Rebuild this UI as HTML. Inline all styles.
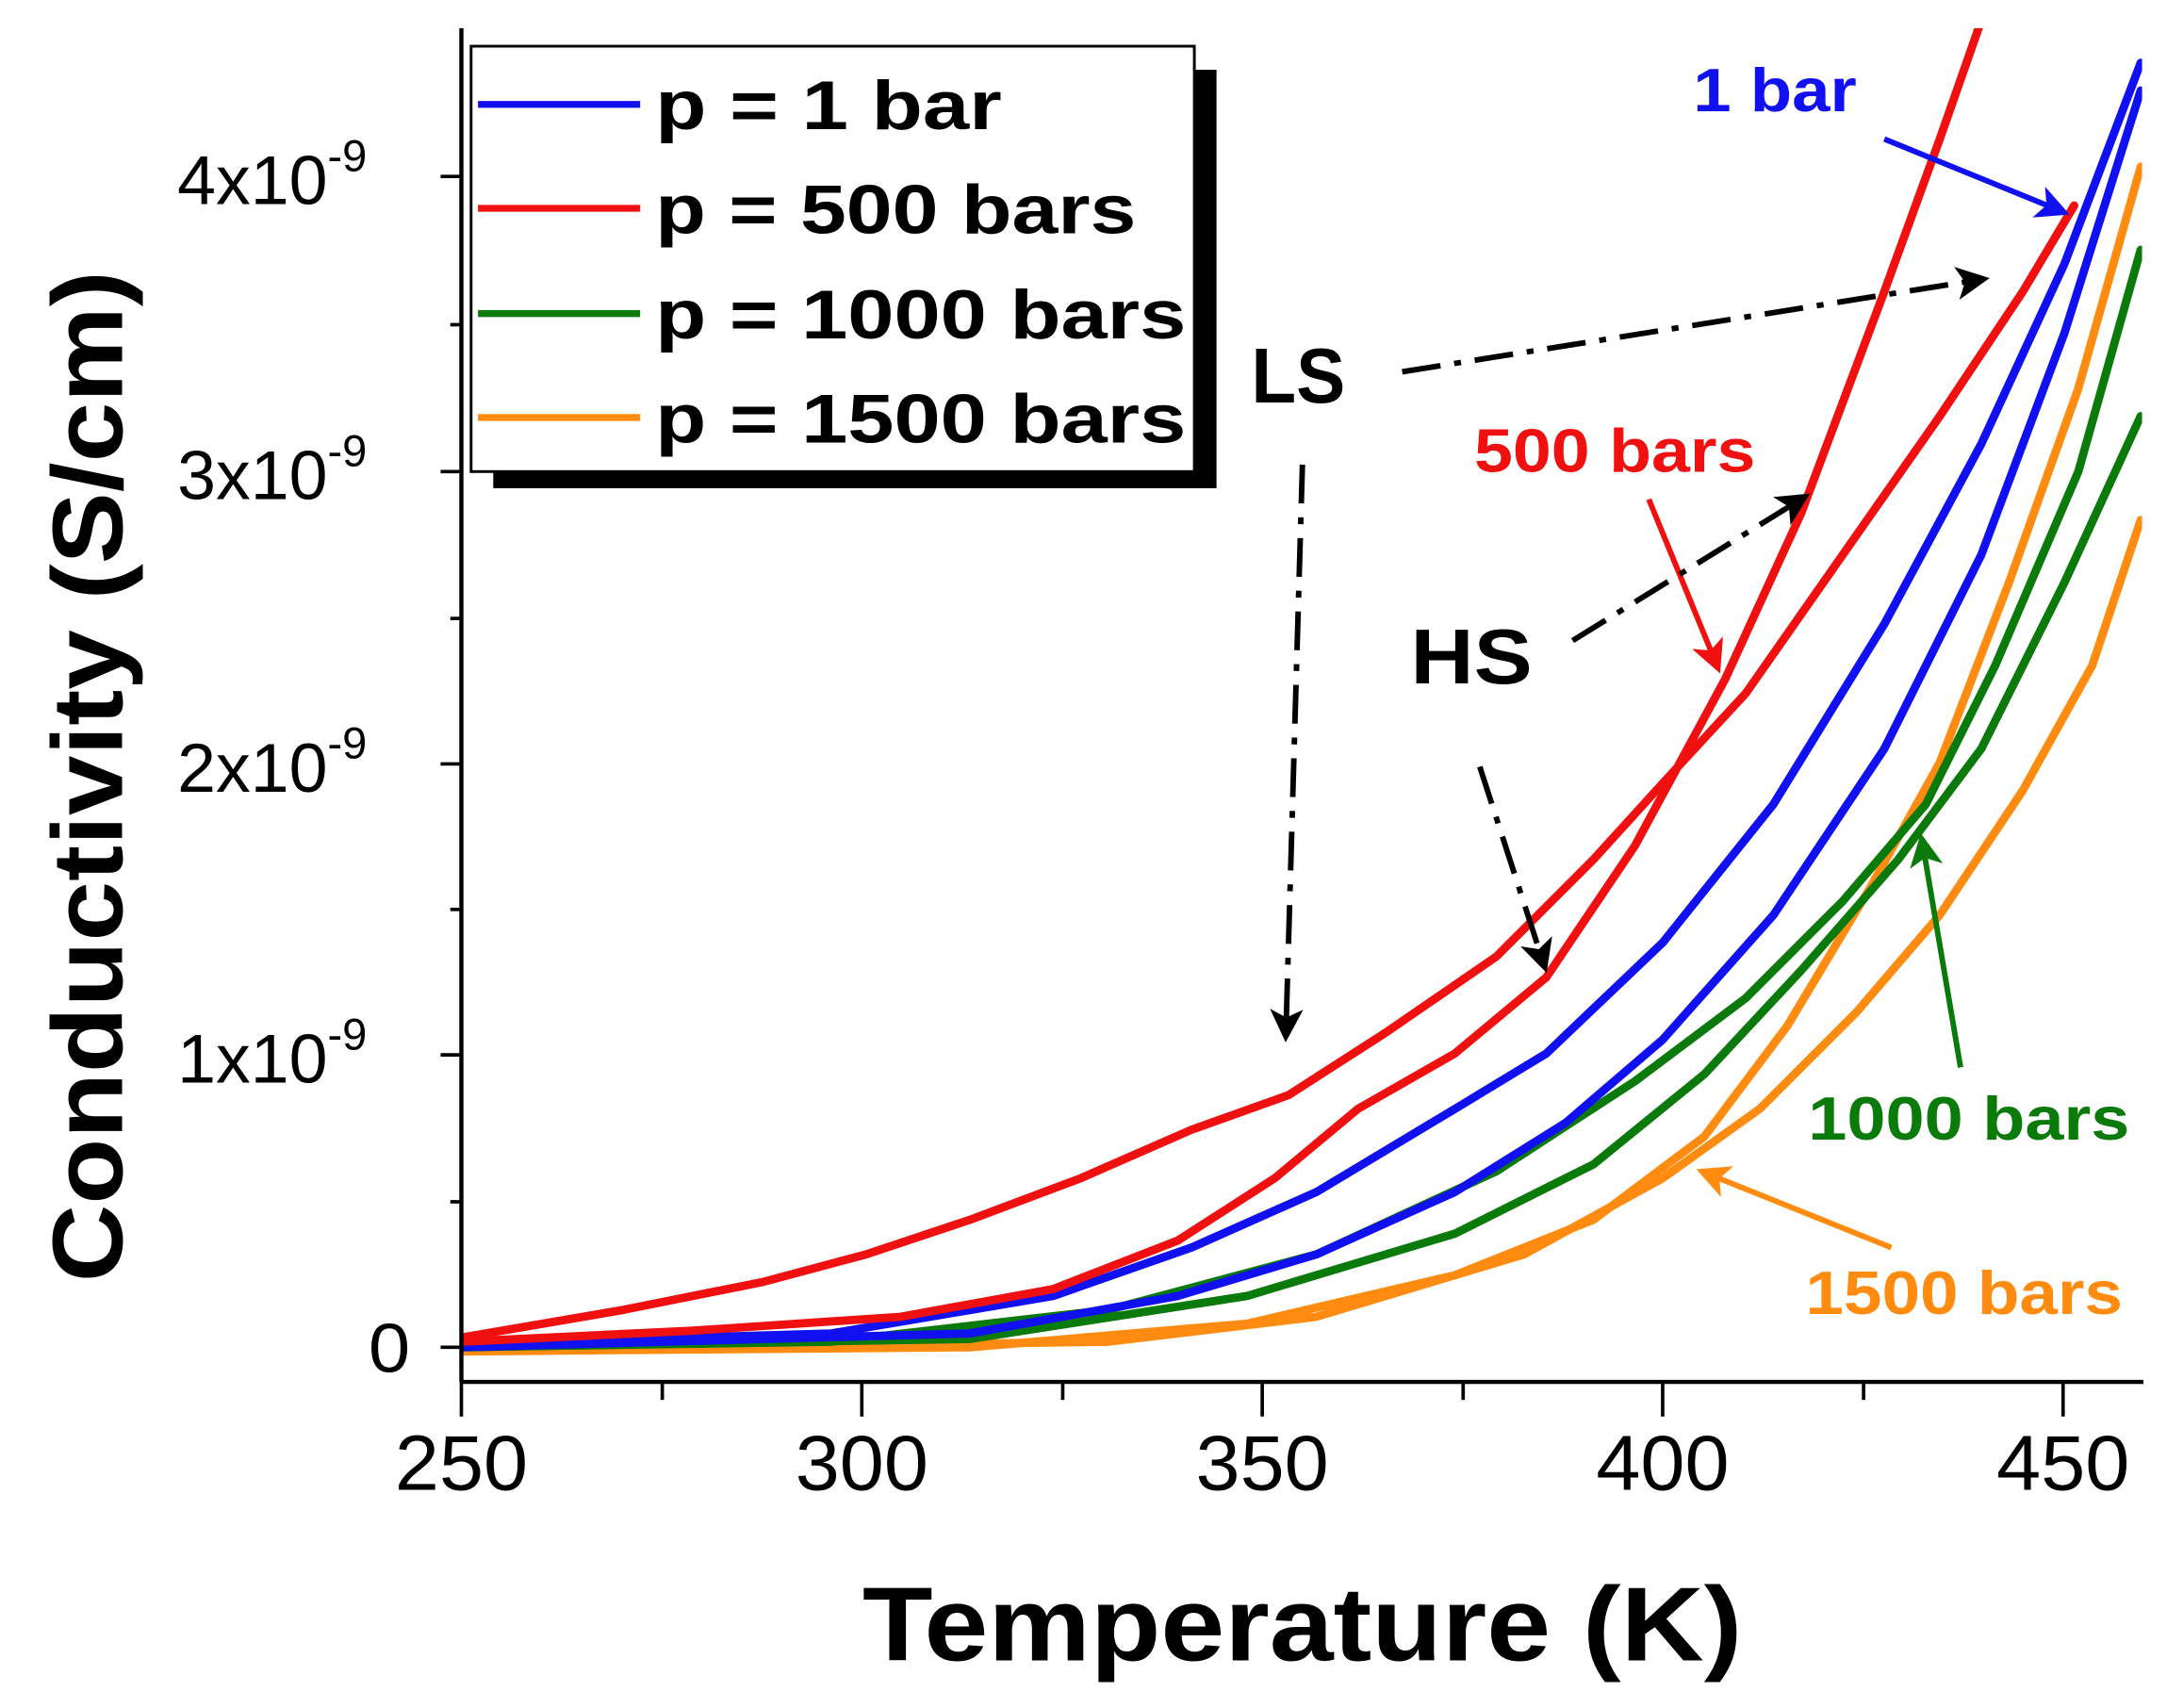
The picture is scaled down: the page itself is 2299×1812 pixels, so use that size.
<!DOCTYPE html>
<html><head><meta charset="utf-8"><style>html,body{margin:0;padding:0;background:#fff}svg{display:block}</style></head>
<body>
<svg width="2299" height="1812" viewBox="0 0 1564 1232" xmlns="http://www.w3.org/2000/svg" font-family="Liberation Sans, Arial, sans-serif">
<defs>
<clipPath id="c"><rect x="334" y="20" width="1212" height="976"/></clipPath>
<marker id="ak" markerWidth="6" markerHeight="6" refX="5" refY="3" orient="auto" markerUnits="strokeWidth"><path d="M0,0 L6,3 L0,6 L1.5,3z" fill="#000"/></marker>
<marker id="ab" markerWidth="6" markerHeight="6" refX="5" refY="3" orient="auto" markerUnits="strokeWidth"><path d="M0,0 L6,3 L0,6 L1.5,3z" fill="#1010f0"/></marker>
<marker id="ar" markerWidth="6" markerHeight="6" refX="5" refY="3" orient="auto" markerUnits="strokeWidth"><path d="M0,0 L6,3 L0,6 L1.5,3z" fill="#f01010"/></marker>
<marker id="ag" markerWidth="6" markerHeight="6" refX="5" refY="3" orient="auto" markerUnits="strokeWidth"><path d="M0,0 L6,3 L0,6 L1.5,3z" fill="#0a7a0a"/></marker>
<marker id="ao" markerWidth="6" markerHeight="6" refX="5" refY="3" orient="auto" markerUnits="strokeWidth"><path d="M0,0 L6,3 L0,6 L1.5,3z" fill="#ff8c10"/></marker>
</defs>
<g clip-path="url(#c)" fill="none" stroke-width="6" stroke-linejoin="round" stroke-linecap="round">
<polyline stroke="#ff8c10" points="333,975 700,972 900,955 1050,920 1150,880 1230,820 1290,740 1350,640 1400,550 1450,420 1500,280 1545,120"/>
<polyline stroke="#ff8c10" points="333,975 800,968 950,950 1100,905 1200,850 1270,800 1340,730 1400,660 1460,570 1510,480 1545,375"/>
<polyline stroke="#0a7a0a" points="333,972 600,968 800,945 950,905 1080,845 1180,780 1260,720 1330,650 1390,580 1440,480 1500,340 1545,180"/>
<polyline stroke="#0a7a0a" points="333,972 700,966 900,935 1050,890 1150,840 1230,775 1300,700 1370,620 1430,540 1490,420 1545,300"/>
<polyline stroke="#1010f0" points="333,970 600,962 760,935 860,900 950,860 1050,800 1116,760 1200,680 1280,580 1360,450 1430,320 1490,190 1545,45"/>
<polyline stroke="#1010f0" points="333,972 700,962 850,935 950,905 1050,860 1130,810 1200,750 1280,660 1360,540 1430,400 1490,240 1545,65"/>
<polyline stroke="#f01010" points="333,965 450,945 550,925 625,905 700,880 780,850 860,815 930,790 1000,745 1080,690 1150,620 1200,565 1260,500 1330,400 1400,300 1460,210 1497,148"/>
<polyline stroke="#f01010" points="333,968 500,960 650,950 760,930 850,895 920,850 980,800 1050,760 1116,705 1180,610 1245,490 1300,370 1360,210 1400,100 1428,20"/>
</g>
<g stroke="#000" stroke-width="3" fill="none">
<line x1="333" y1="20" x2="333" y2="997"/>
<line x1="333" y1="997" x2="1547" y2="997"/>
</g>
<g stroke="#000" stroke-width="2.5">
<line x1="333" y1="997" x2="333" y2="1022"/><line x1="622" y1="997" x2="622" y2="1022"/><line x1="911" y1="997" x2="911" y2="1022"/><line x1="1200" y1="997" x2="1200" y2="1022"/><line x1="1489" y1="997" x2="1489" y2="1022"/>
<line x1="478" y1="997" x2="478" y2="1010"/><line x1="767" y1="997" x2="767" y2="1010"/><line x1="1056" y1="997" x2="1056" y2="1010"/><line x1="1345" y1="997" x2="1345" y2="1010"/>
<line x1="318" y1="972" x2="333" y2="972"/><line x1="318" y1="761" x2="333" y2="761"/><line x1="318" y1="551" x2="333" y2="551"/><line x1="318" y1="340" x2="333" y2="340"/><line x1="318" y1="127" x2="333" y2="127"/>
<line x1="325" y1="867" x2="333" y2="867"/><line x1="325" y1="656" x2="333" y2="656"/><line x1="325" y1="446" x2="333" y2="446"/><line x1="325" y1="234" x2="333" y2="234"/>
</g>
<g font-size="56" text-anchor="middle" fill="#000">
<text x="333" y="1075" textLength="96" lengthAdjust="spacingAndGlyphs">250</text>
<text x="622" y="1075" textLength="96" lengthAdjust="spacingAndGlyphs">300</text>
<text x="911" y="1075" textLength="96" lengthAdjust="spacingAndGlyphs">350</text>
<text x="1200" y="1075" textLength="96" lengthAdjust="spacingAndGlyphs">400</text>
<text x="1489" y="1075" textLength="96" lengthAdjust="spacingAndGlyphs">450</text>
</g>
<g font-size="50" fill="#000">
<text x="266" y="990" textLength="30" lengthAdjust="spacingAndGlyphs">0</text>
<text x="128" y="781">1x10<tspan font-size="32" dy="-24">-9</tspan></text>
<text x="128" y="571">2x10<tspan font-size="32" dy="-24">-9</tspan></text>
<text x="128" y="360">3x10<tspan font-size="32" dy="-24">-9</tspan></text>
<text x="128" y="147">4x10<tspan font-size="32" dy="-24">-9</tspan></text>
</g>
<text transform="translate(88,560) rotate(-90)" text-anchor="middle" font-size="72" font-weight="bold" textLength="730" lengthAdjust="spacingAndGlyphs">Conductivity (S/cm)</text>
<text x="940" y="1198" text-anchor="middle" font-size="76" font-weight="bold" textLength="635" lengthAdjust="spacingAndGlyphs">Temperature (K)</text>
<rect x="356" y="50" width="522" height="302" fill="#000"/>
<rect x="340" y="33" width="522" height="307" fill="#fff" stroke="#000" stroke-width="2"/>
<g stroke-width="5">
<line x1="345" y1="75" x2="462" y2="75" stroke="#1010f0"/>
<line x1="345" y1="150" x2="462" y2="150" stroke="#f01010"/>
<line x1="345" y1="226" x2="462" y2="226" stroke="#0a7a0a"/>
<line x1="345" y1="301" x2="462" y2="301" stroke="#ff8c10"/>
</g>
<g font-size="50" font-weight="bold">
<text x="473" y="93" textLength="250" lengthAdjust="spacingAndGlyphs">p = 1 bar</text>
<text x="473" y="168" textLength="347" lengthAdjust="spacingAndGlyphs">p = 500 bars</text>
<text x="473" y="244" textLength="383" lengthAdjust="spacingAndGlyphs">p = 1000 bars</text>
<text x="473" y="319" textLength="383" lengthAdjust="spacingAndGlyphs">p = 1500 bars</text>
</g>
<g font-weight="bold" font-size="44">
<text x="1222" y="80" fill="#1010f0" textLength="118" lengthAdjust="spacingAndGlyphs">1 bar</text>
<text x="1064" y="340" fill="#f01010" textLength="203" lengthAdjust="spacingAndGlyphs">500 bars</text>
<text x="1305" y="822" fill="#0a7a0a" textLength="232" lengthAdjust="spacingAndGlyphs">1000 bars</text>
<text x="1303" y="948" fill="#ff8c10" textLength="229" lengthAdjust="spacingAndGlyphs">1500 bars</text>
<text x="903" y="290" font-size="56" textLength="68" lengthAdjust="spacingAndGlyphs">LS</text>
<text x="1018" y="493" font-size="56" textLength="88" lengthAdjust="spacingAndGlyphs">HS</text>
</g>
<g fill="none" stroke-width="4">
<line x1="1360" y1="100" x2="1490" y2="153" stroke="#1010f0" marker-end="url(#ab)"/>
<line x1="1190" y1="360" x2="1240" y2="482" stroke="#f01010" marker-end="url(#ar)"/>
<line x1="1415" y1="770" x2="1387" y2="605" stroke="#0a7a0a" marker-end="url(#ag)"/>
<line x1="1365" y1="900" x2="1228" y2="845" stroke="#ff8c10" marker-end="url(#ao)"/>
<g stroke="#000" stroke-dasharray="28 10 5 10" marker-end="url(#ak)">
<line x1="1012" y1="268" x2="1432" y2="201"/>
<line x1="940" y1="335" x2="928" y2="748"/>
<line x1="1135" y1="462" x2="1303" y2="358"/>
<line x1="1068" y1="553" x2="1115" y2="698"/>
</g>
</g>
</svg>
</body></html>
